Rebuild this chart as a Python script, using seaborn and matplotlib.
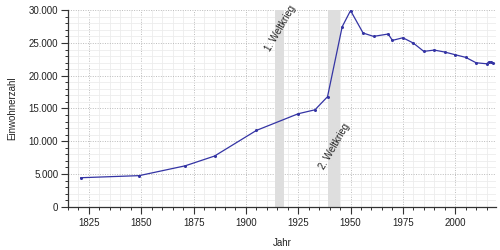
import matplotlib
matplotlib.use("Agg")
import matplotlib.pyplot as plt
from matplotlib.ticker import MultipleLocator, FuncFormatter
import seaborn as sns
import pandas as pd

years = [1821, 1849, 1871, 1885, 1905, 1925, 1933, 1939, 1946, 1950,
         1956, 1961, 1968, 1970, 1975, 1980, 1985, 1990, 1995, 2000,
         2005, 2010, 2015, 2016, 2017, 2018]
population = [4430, 4750, 6250, 7740, 11650, 14200, 14800, 16800, 27480, 29950,
              26520, 26010, 26370, 25400, 25800, 24990, 23720, 23920, 23620, 23210,
              22810, 21980, 21830, 22090, 22100, 22000]
war_labels = ["1. Weltkrieg", "2. Weltkrieg"]
war_starts = [1914, 1939]
war_ends = [1918, 1945]
war_label_y = [27300, 9200]

sns.set_theme(style="white")
plt.rcParams['font.family'] = ['Liberation Sans', 'DejaVu Sans']

df = pd.DataFrame({"Jahr": years, "Einwohnerzahl": population})

fig = plt.figure(figsize=(5, 2.5), dpi=100)
ax = fig.add_axes([0.136, 0.173, 0.856, 0.786])

for s, e in zip(war_starts, war_ends):
    ax.axvspan(s, e, color="#dedede", zorder=1, lw=0)
for lab, s, e, yv in zip(war_labels, war_starts, war_ends, war_label_y):
    ax.text((s + e) / 2 + 0.3, yv, lab, rotation=60, ha="center", va="center",
            fontsize=7, color="#222222", zorder=4)

sns.lineplot(data=df, x="Jahr", y="Einwohnerzahl", ax=ax, color="#3434a4",
             lw=0.9, marker="o", markersize=2.2, markeredgewidth=0, zorder=5)

ax.set_xlim(1815, 2019.5)
ax.set_ylim(0, 30000)
ax.xaxis.set_major_locator(MultipleLocator(25))
ax.xaxis.set_minor_locator(MultipleLocator(5))
ax.yaxis.set_major_locator(MultipleLocator(5000))
ax.yaxis.set_minor_locator(MultipleLocator(1000))
ax.yaxis.set_major_formatter(FuncFormatter(lambda v, p: f"{int(v):,}".replace(",", ".")))

ax.grid(which="minor", color="#ececec", lw=0.6, ls="-", zorder=0)
ax.grid(which="major", color="#bbbbbb", lw=0.7, ls=(0, (1, 1.5)), zorder=0)
ax.set_axisbelow(True)

for side in ["top", "right"]:
    ax.spines[side].set_visible(False)
for side in ["left", "bottom"]:
    ax.spines[side].set_color("#333333")
    ax.spines[side].set_linewidth(0.9)

ax.tick_params(which="major", direction="out", length=5, width=0.8, color="#333333",
               labelsize=7, labelcolor="#222222", bottom=True, left=True, pad=2)
ax.tick_params(which="minor", direction="out", length=2.5, width=0.7, color="#333333",
               bottom=True, left=True)
ax.tick_params(axis="x", pad=3)

ax.set_xlabel("Jahr", fontsize=7, color="#222222", labelpad=7)
ax.set_ylabel("Einwohnerzahl", fontsize=7, color="#222222", labelpad=8)

fig.savefig("out.png", dpi=100, facecolor="white")
